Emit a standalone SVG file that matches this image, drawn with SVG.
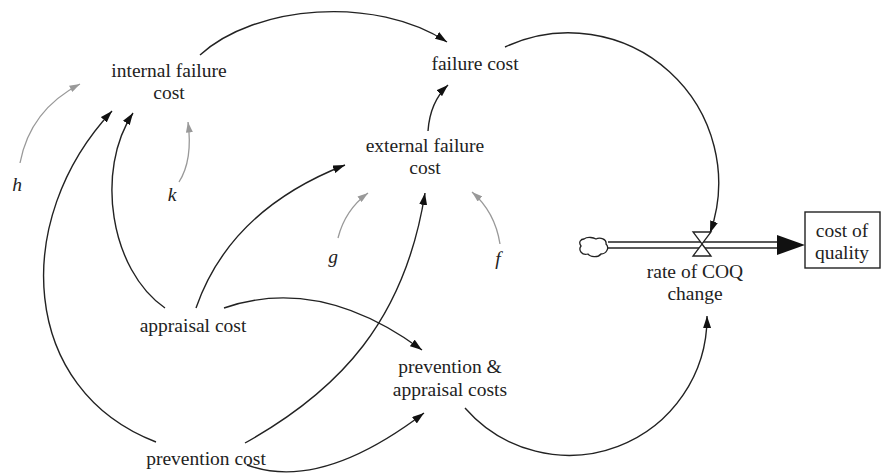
<svg xmlns="http://www.w3.org/2000/svg" width="883" height="476" viewBox="0 0 883 476">
<defs>
<marker id="ah" viewBox="0 0 12 8" refX="12" refY="4" markerWidth="12" markerHeight="8" markerUnits="userSpaceOnUse" orient="auto"><path d="M0,0 L12,4 L0,8 z" fill="#111"/></marker>
<marker id="ahg" viewBox="0 0 12 8" refX="12" refY="4" markerWidth="11" markerHeight="7" markerUnits="userSpaceOnUse" orient="auto"><path d="M0,0 L12,4 L0,8 z" fill="#999"/></marker>
</defs>
<style>
text{font-family:"Liberation Serif","Times New Roman",serif;font-size:19.5px;fill:#222;text-anchor:middle}
.v{font-style:italic}
.c{fill:none;stroke:#222;stroke-width:1.4;marker-end:url(#ah)}
.g{fill:none;stroke:#999;stroke-width:1.3;marker-end:url(#ahg)}
</style>
<rect width="883" height="476" fill="#fff"/>
<g id="connectors">
<path class="c" d="M200,55 C255,5 375,-5 447,42"/>
<path class="c" d="M505,47 A150,150 0 0 1 710,233"/>
<path class="c" d="M428,131 Q430,102 448,85"/>
<path class="g" d="M20,163 Q30,110 80,84"/>
<path class="g" d="M179,182 Q193,160 188,122"/>
<path class="c" d="M165,308 C110,270 95,170 133,113"/>
<path class="c" d="M156,442 C20,390 10,220 112,111"/>
<path class="c" d="M196,308 Q230,210 345,165"/>
<path class="c" d="M245,443 C340,390 405,320 425,193"/>
<path class="c" d="M224,308 Q320,275 422,350"/>
<path class="c" d="M247,465 Q320,492 424,413"/>
<path class="c" d="M465,408 A138,138 0 0 0 707,316"/>
<path class="g" d="M338,238 Q345,210 368,193"/>
<path class="g" d="M500,244 Q495,212 472,192"/>
</g>
<g id="flow">
<line x1="608" y1="242" x2="782" y2="242" stroke="#222" stroke-width="1.4"/>
<line x1="608" y1="248" x2="782" y2="248" stroke="#222" stroke-width="1.4"/>
<path d="M777,235 L805,245 L777,255 z" fill="#111"/>
<path d="M584,239 C588,236 594,238 596,239 C600,237 607,239 606,244 C610,248 606,254 601,254 C598,258 590,257 588,254 C582,256 578,250 581,246 C578,242 581,239 584,239 z" fill="#fff" stroke="#222" stroke-width="1.3"/>
</g>
<g id="valve">
<path d="M693,232 L711,232 L702,244 z M702,244 L711,256 L693,256 z" fill="#fff" stroke="#222" stroke-width="1.3"/>
<text x="695" y="278">rate of COQ</text>
<text x="695" y="300">change</text>
</g>
<g id="cost-of-quality">
<rect x="805" y="212" width="75" height="56" fill="#fff" stroke="#222" stroke-width="1.4"/>
<text x="842" y="237">cost of</text>
<text x="842" y="259">quality</text>
</g>
<g id="internal-failure-cost">
<text x="169" y="77">internal failure</text>
<text x="169" y="99">cost</text>
</g>
<g id="failure-cost"><text x="475" y="70">failure cost</text></g>
<g id="external-failure-cost">
<text x="425" y="152">external failure</text>
<text x="425" y="174">cost</text>
</g>
<g id="appraisal-cost"><text x="193" y="332">appraisal cost</text></g>
<g id="prevention-cost"><text x="206" y="465">prevention cost</text></g>
<g id="prevention-appraisal-costs">
<text x="450" y="373">prevention &amp;</text>
<text x="450" y="396">appraisal costs</text>
</g>
<g id="h"><text class="v" x="17" y="191">h</text></g>
<g id="k"><text class="v" x="172" y="201">k</text></g>
<g id="g"><text class="v" x="333" y="263">g</text></g>
<g id="f"><text class="v" x="498" y="265">f</text></g>
</svg>
